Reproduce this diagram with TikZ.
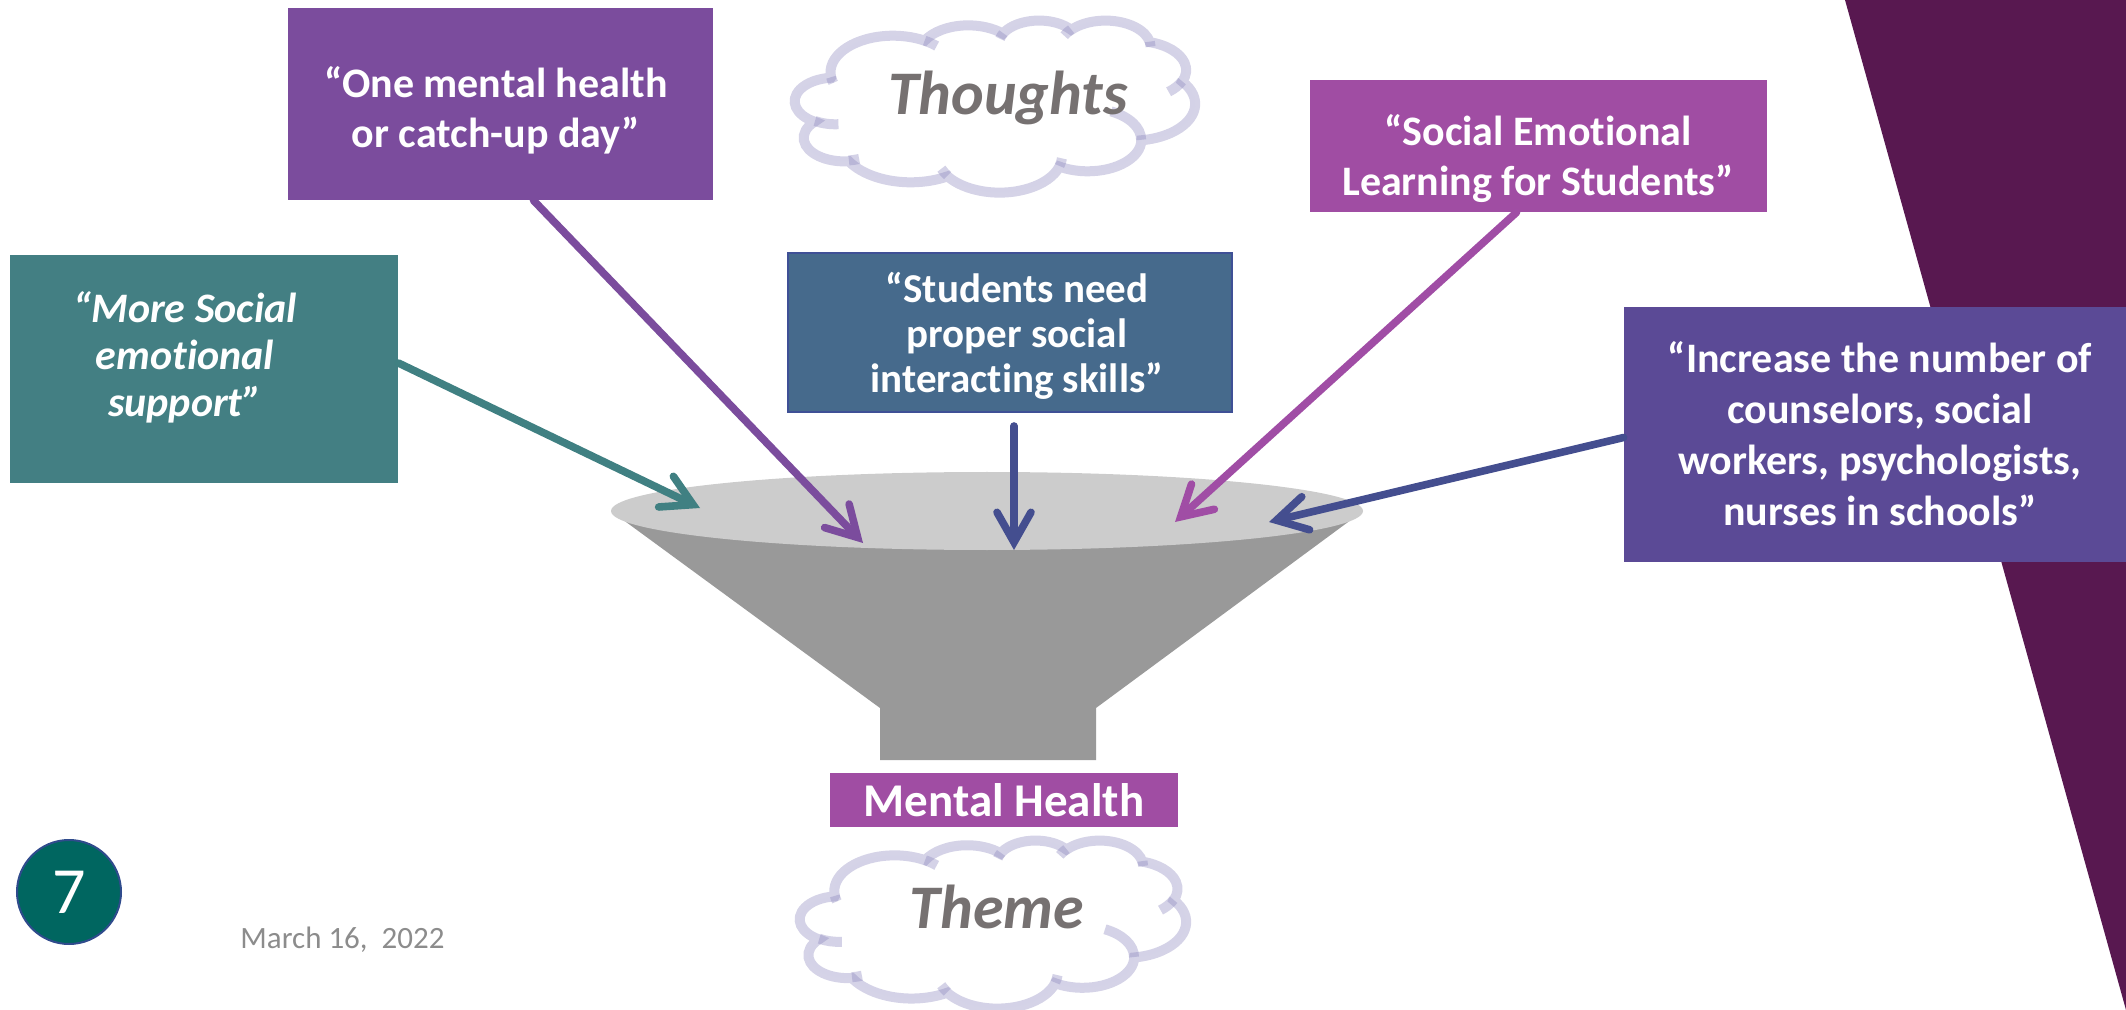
\documentclass[tikz,border=0pt]{standalone}
\usepackage{fontspec}
\setmainfont{Carlito}[Ligatures=NoCommon]
\usetikzlibrary{arrows.meta,calc}
\definecolor{tealbox}{RGB}{67,127,131}
\definecolor{onebox}{RGB}{123,76,157}
\definecolor{socbox}{RGB}{160,77,163}
\definecolor{studbox}{RGB}{70,106,140}
\definecolor{studedge}{RGB}{63,80,150}
\definecolor{incbox}{RGB}{91,74,150}
\definecolor{maroon}{RGB}{88,24,80}
\definecolor{numfill}{RGB}{0,102,96}
\definecolor{numedge}{RGB}{47,75,140}
\definecolor{arrteal}{RGB}{64,128,130}
\definecolor{arrpurple}{RGB}{123,76,157}
\definecolor{arrblue}{RGB}{68,78,143}
\definecolor{arrmag}{RGB}{160,77,165}
\definecolor{funtop}{RGB}{204,204,204}
\definecolor{funbody}{RGB}{153,153,153}
\definecolor{cloudgray}{RGB}{118,113,113}
\definecolor{dategray}{RGB}{140,140,140}
\definecolor{cloudc}{RGB}{140,135,190}
\newcommand\pparc[4]{arc[x radius=#1, y radius=#2, start angle={atan2((#1)*sin(#3),(#2)*cos(#3))}, delta angle={mod(atan2((#1)*sin((#3)+(#4)),(#2)*cos((#3)+(#4)))-atan2((#1)*sin(#3),(#2)*cos(#3))+720,360)}]}
\newcommand\cloudoutline{(39.00,143.70)
 \pparc{67.53}{91.90}{-190.4875}{123.7805}
 \pparc{53.33}{72.67}{-144.1024}{89.9452}
 \pparc{43.65}{59.45}{-145.8079}{99.7230}
 \pparc{48.57}{65.95}{-130.9861}{117.2417}
 \pparc{53.33}{72.73}{-78.7089}{109.0269}
 \pparc{67.75}{92.20}{-46.2673}{130.2690}
 \pparc{57.85}{78.67}{0.6250}{114.0333}
 \pparc{67.52}{92.15}{22.4516}{115.1726}
 \pparc{77.20}{105.43}{66.2426}{75.7110}
 \pparc{43.60}{59.18}{-274.9421}{146.7356}
 \pparc{43.45}{59.45}{-246.8285}{152.5189} -- cycle}
\newcommand\cloudinner{(46.93,261.77) \pparc{43.45}{59.45}{86.7420}{26.4295}
 (69.28,348.99) \pparc{43.60}{59.18}{73.6105}{11.4475}
 (164.78,390.90) \pparc{67.52}{92.15}{137.6242}{14.0811}
 (288.27,347.51) \pparc{67.52}{92.15}{6.4533}{15.9984}
 (341.29,229.54) \pparc{57.85}{78.67}{-70.2924}{70.9174}
 (417.98,153.54) \pparc{53.33}{72.73}{30.3180}{27.7515}
 (383.24,54.26) \pparc{48.57}{65.95}{-13.7443}{14.8589}
 (290.78,39.52) \pparc{48.57}{65.95}{-149.1815}{18.1954}
 (221.41,47.20) \pparc{43.65}{59.45}{-163.4943}{17.6864}
 (140.00,51.92) \pparc{67.53}{91.90}{-66.7070}{12.3194}
 (41.27,157.89) \pparc{67.53}{91.90}{157.6544}{11.8582}}
\begin{document}
\begin{tikzpicture}[x=0.5pt,y=-0.5pt,
  qbox/.style={rectangle, inner sep=0pt, draw=none},
  qtext/.style={text=white, align=center, inner sep=0pt, font=\bfseries\fontsize{21}{25}\selectfont},
  conn/.style={line width=3.8pt, line cap=round, -{Straight Barb[length=15pt,width=17pt,line cap=round,line join=miter]}},
  cloudline/.style={draw=cloudc, draw opacity=0.37, line width=5pt},
  cloudtext/.style={text=cloudgray, inner sep=0pt, font=\bfseries\itshape\fontsize{31}{31}\selectfont}]
\useasboundingbox (0,0) rectangle (2126,1010);
% background triangle
\fill[maroon] (1845,0) -- (2126,0) -- (2126,1010) -- cycle;
% funnel
\fill[funbody] (611,511) -- (1363,511) -- (1096,708) -- (1096,760) -- (880,760) -- (880,708) -- cycle;
\fill[funtop] (987,511) ellipse [x radius=376, y radius=39];
% boxes
\node[qbox, fill=tealbox, minimum width=194pt, minimum height=114pt] (teal) at (204,369) {};
\node[qbox, fill=onebox, minimum width=212.5pt, minimum height=96pt] (one) at (500.5,104) {};
\node[qbox, fill=socbox, minimum width=228.5pt, minimum height=66pt] (soc) at (1538.5,146) {};
\node[qbox, fill=studbox, draw=studedge, line width=1pt, minimum width=222pt, minimum height=79.5pt] (stud) at (1010,332.5) {};
\node[qbox, fill=incbox, minimum width=251pt, minimum height=127.5pt] (inc) at (1875,434.5) {};
\node[qbox, fill=socbox, minimum width=174pt, minimum height=27pt, text=white, font=\bfseries\fontsize{23.5}{25}\selectfont] (mental) at (1004,800) {Mental Health};
% texts
\node[qtext, font=\bfseries\itshape\fontsize{21}{23.5}\selectfont] (tealtxt) at (185,357) {“More Social\\emotional\\support”};
\node[qtext] (onetxt) at (496,110.5) {“One mental health\\or catch-up day”};
\node[qtext] (soctxt) at (1538,158.5) {“Social Emotional\\Learning for Students”};
\node[qtext, font=\bfseries\fontsize{20.5}{22.5}\selectfont] (studtxt) at (1017,335.5) {“Students need\\proper social\\interacting skills”};
\node[qtext, font=\bfseries\fontsize{21}{25.5}\selectfont] (inctxt) at (1880,433.5) {“Increase the number of\\counselors, social\\workers, psychologists,\\nurses in schools”};
% arrow tips
\coordinate (t1) at (700,508);
\coordinate (t2) at (863,543);
\coordinate (t3) at (1014,550);
\coordinate (t4) at (1175,522);
\coordinate (t5) at (1269,522);
\draw[conn, arrteal] ([yshift=3pt]teal.east) -- (t1);
\draw[conn, arrpurple] ([xshift=16.5pt]one.south) -- (t2);
\draw[conn, arrblue] ([xshift=2pt,yshift=-6.5pt]stud.south) -- (t3);
\draw[conn, arrmag] ([xshift=-11pt]soc.south) -- (t4);
\draw[conn, arrblue] ([yshift=-1.5pt]inc.west) -- (t5);
% clouds
\begin{scope}[shift={(795,20)}, xscale=400/432, yscale=172/432]
  \fill[white] \cloudoutline;
  \draw[cloudline] \cloudoutline;
  \draw[cloudline] \cloudinner;
\end{scope}
\begin{scope}[shift={(800,840)}, xscale=386/432, yscale=168/432]
  \fill[white] \cloudoutline;
  \draw[cloudline] \cloudoutline;
  \draw[cloudline] \cloudinner;
\end{scope}
\node[cloudtext] (thoughts) at (1008,97.5) {Thoughts};
\node[cloudtext] (theme) at (997,906.5) {Theme};
% number and date
\node[circle, fill=numfill, draw=numedge, line width=1pt, minimum size=52pt, inner sep=0pt, text=white, font=\fontsize{33}{33}\selectfont] (num) at (69,892) {7};
\node[anchor=base west, inner sep=0pt, text=dategray, font=\fontsize{15.5}{16}\selectfont] (date) at (240,948) {March 16,\ \ 2022};
\end{tikzpicture}
\end{document}
